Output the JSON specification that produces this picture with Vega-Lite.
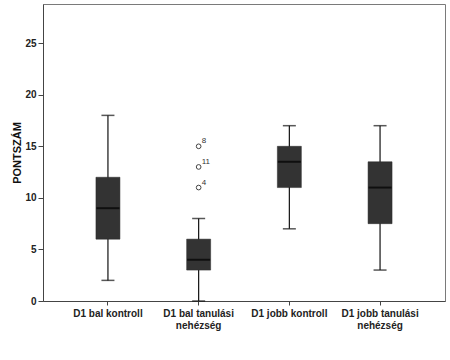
{
  "$schema": "https://vega.github.io/schema/vega-lite/v6.json",
  "width": 402,
  "height": 297,
  "autosize": {"type": "none"},
  "padding": {"left": 43, "top": 4, "right": 5, "bottom": 59},
  "background": "white",
  "config": {
    "view": {"stroke": "#7a7a7a", "strokeWidth": 1},
    "font": "Liberation Sans",
    "axis": {"grid": false, "domainColor": "#444", "tickColor": "#444", "labelColor": "#222", "titleColor": "#111"}
  },
  "datasets": {
    "boxes": [
      {"cat": "D1 bal kontroll", "min": 2, "q1": 6, "median": 9, "q3": 12, "max": 18},
      {"cat": "D1 bal tanulási nehézség", "min": 0, "q1": 3, "median": 4, "q3": 6, "max": 8},
      {"cat": "D1 jobb kontroll", "min": 7, "q1": 11, "median": 13.5, "q3": 15, "max": 17},
      {"cat": "D1 jobb tanulási nehézség", "min": 3, "q1": 7.5, "median": 11, "q3": 13.5, "max": 17}
    ],
    "outliers": [
      {"cat": "D1 bal tanulási nehézség", "value": 15, "id": "8"},
      {"cat": "D1 bal tanulási nehézség", "value": 13, "id": "11"},
      {"cat": "D1 bal tanulási nehézség", "value": 11, "id": "4"}
    ]
  },
  "encoding": {
    "x": {
      "field": "cat", "type": "nominal",
      "sort": ["D1 bal kontroll", "D1 bal tanulási nehézség", "D1 jobb kontroll", "D1 jobb tanulási nehézség"],
      "scale": {"paddingInner": 0.5, "paddingOuter": 0.466},
      "axis": {
        "title": null, "labelAngle": 0, "labelFontWeight": "bold", "labelFontSize": 10,
        "tickSize": 4, "labelPadding": 3, "labelLimit": 200,
        "labelExpr": "split(replace(datum.value, 'tanulási nehézség', 'tanulási|nehézség'), '|')"
      }
    }
  },
  "layer": [
    {
      "data": {"name": "boxes"},
      "mark": {"type": "rule", "color": "#111", "strokeWidth": 1.2},
      "encoding": {
        "y": {"field": "min", "type": "quantitative",
          "scale": {"domain": [0, 28.8], "nice": false, "zero": true},
          "axis": {"title": "PONTSZÁM", "values": [0, 5, 10, 15, 20, 25], "labelFontWeight": "bold", "labelFontSize": 10,
            "tickSize": 5, "labelPadding": 2, "titleFontWeight": "bold", "titleFontSize": 11, "titlePadding": 2}},
        "y2": {"field": "max"}
      }
    },
    {
      "data": {"name": "boxes"},
      "mark": {"type": "tick", "color": "#111", "size": 13, "thickness": 1.5},
      "encoding": {"y": {"field": "min", "type": "quantitative"}}
    },
    {
      "data": {"name": "boxes"},
      "mark": {"type": "tick", "color": "#111", "size": 13, "thickness": 1.5},
      "encoding": {"y": {"field": "max", "type": "quantitative"}}
    },
    {
      "data": {"name": "boxes"},
      "mark": {"type": "bar", "color": "#333333", "size": 24, "stroke": "#2a2a2a", "strokeWidth": 0.5},
      "encoding": {"y": {"field": "q1", "type": "quantitative"}, "y2": {"field": "q3"}}
    },
    {
      "data": {"name": "boxes"},
      "mark": {"type": "tick", "color": "#000", "size": 23, "thickness": 2},
      "encoding": {"y": {"field": "median", "type": "quantitative"}}
    },
    {
      "data": {"name": "outliers"},
      "mark": {"type": "point", "shape": "circle", "filled": false, "size": 22, "stroke": "#444", "strokeWidth": 1, "opacity": 1},
      "encoding": {"y": {"field": "value", "type": "quantitative"}}
    },
    {
      "data": {"name": "outliers"},
      "mark": {"type": "text", "align": "left", "baseline": "bottom", "dx": 3, "dy": -1, "fontSize": 8, "fill": "#333"},
      "encoding": {"y": {"field": "value", "type": "quantitative"}, "text": {"field": "id"}}
    }
  ]
}
